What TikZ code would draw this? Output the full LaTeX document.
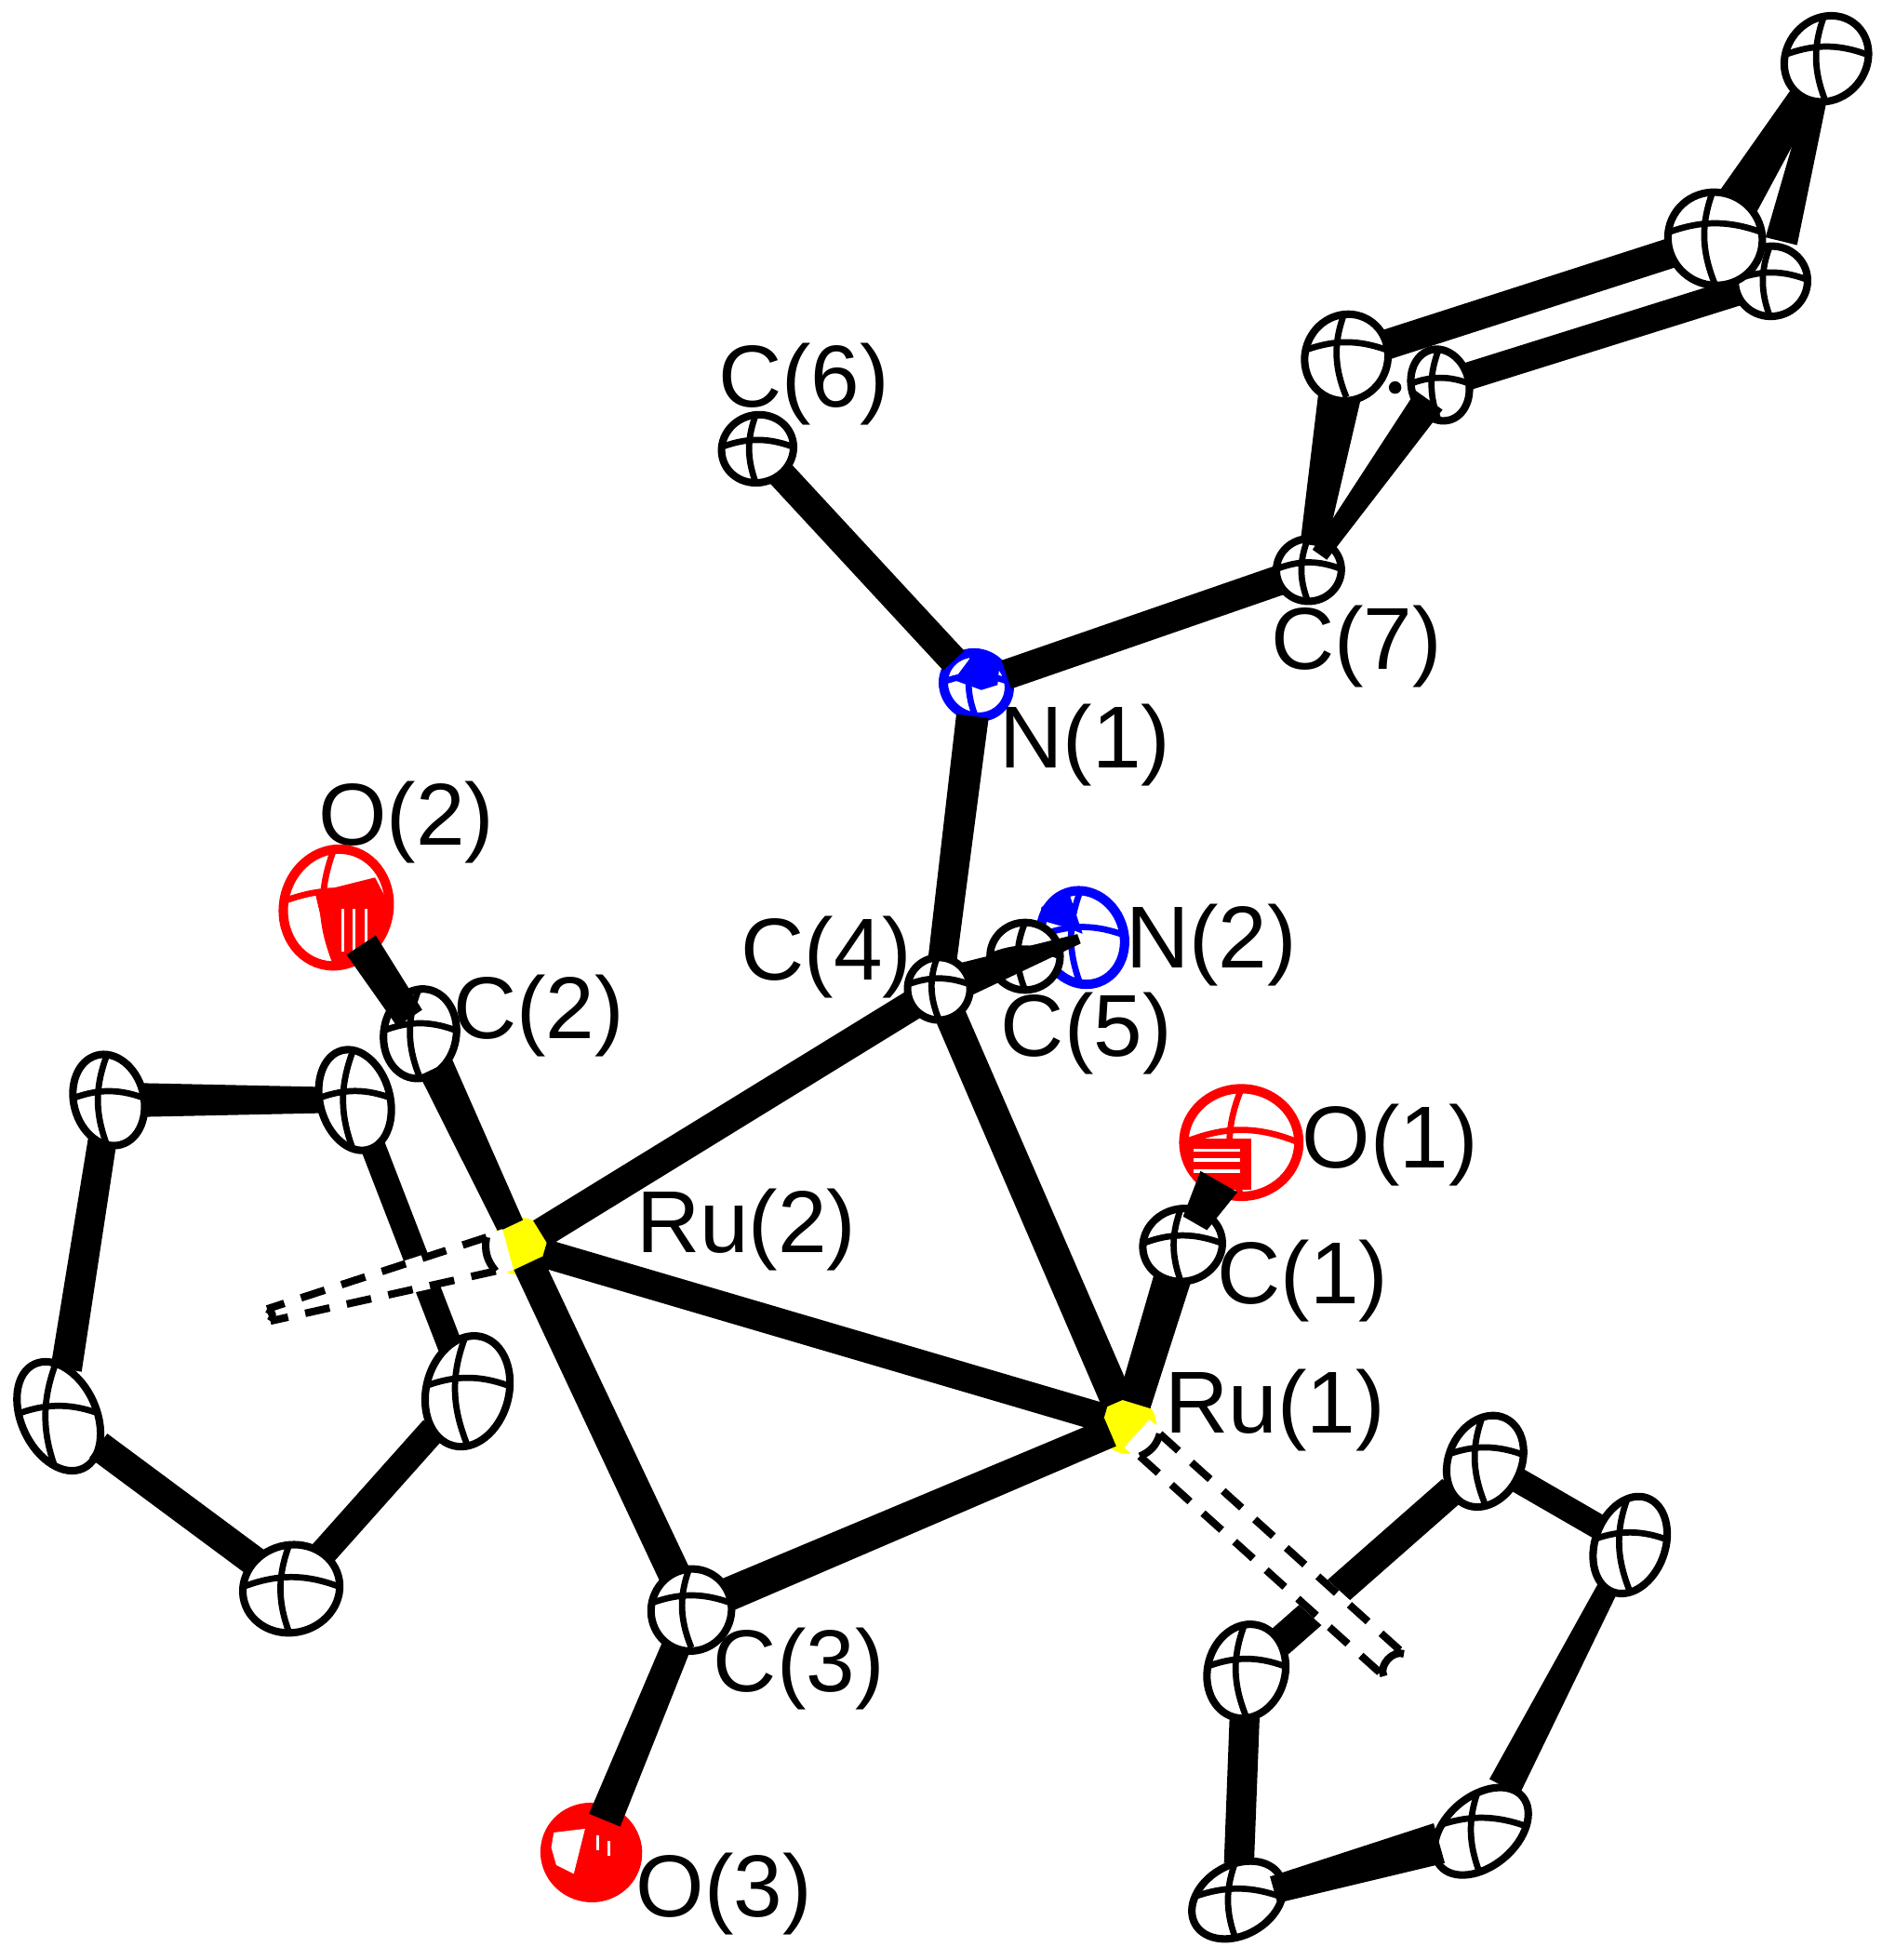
\documentclass[tikz,border=0pt]{standalone}
\usepackage{fontspec}
\setmainfont{Liberation Sans}
\usepackage{tikz}
\usetikzlibrary{shapes}
\usetikzlibrary{arrows,positioning,calc}
\pgfdeclarelayer{front}
\pgfsetlayers{main,front}
\definecolor{rured}{RGB}{255,0,0}
\definecolor{nblue}{RGB}{0,0,255}
\definecolor{ruyel}{RGB}{255,255,0}
\tikzstyle{atom}=[ellipse,draw,fill=white,line width=.06cm,inner sep=0pt,path picture={\draw[line width=.05cm] (path picture bounding box.west) to[bend left=22] (path picture bounding box.east) (path picture bounding box.north) to[bend right=22] (path picture bounding box.south);}]
\tikzstyle{hetero}=[atom,line width=.075cm]
\tikzstyle{metal}=[circle,fill=ruyel,inner sep=0pt,minimum size=.46cm]
\tikzstyle{bond}=[line width=.24cm,shorten <=-.04cm,shorten >=-.04cm]
\tikzstyle{lb}=[inner sep=0pt,yshift=-.04cm,font=\fontsize{20}{21}\selectfont]
\tikzstyle{rail}=[line width=.06cm,dash pattern=on .2cm off .14cm]
\tikzset{sz/.style 2 args={minimum width=#1cm,minimum height=#2cm}}
\newcommand{\wbond}[6]{\fill ($(#1)!#3!(#2)!#4!90:(#2)$) -- ($(#1)!#3!(#2)!#4!-90:(#2)$) -- ($(#2)!#5!(#1)!#6!90:(#1)$) -- ($(#2)!#5!(#1)!#6!-90:(#1)$) -- cycle;}
\newcommand{\rails}[4]{\fill[white] ($(#1)!.1cm!(#2)!#3!90:(#2)$) -- ($(#1)!.1cm!(#2)!#3!-90:(#2)$) -- ($(#2)!#4!90:(#1)$) -- ($(#2)!#4!-90:(#1)$) -- cycle;
 \draw[rail] ($(#1)!.24cm!(#2)!#3-.03cm!90:(#2)$) -- ($(#2)!#4-.03cm!-90:(#1)$);
 \draw[rail] ($(#1)!.24cm!(#2)!#3-.03cm!-90:(#2)$) -- ($(#2)!#4-.03cm!90:(#1)$);
 \draw[line width=.06cm] ($(#2)!#4-.03cm!-90:(#1)$) to[bend right=70] ($(#2)!#4-.03cm!90:(#1)$);
 \draw[line width=.06cm] ($(#1)!.24cm!(#2)!#3-.03cm!90:(#2)$) to[bend left=25] ($(#1)!.24cm!(#2)!#3-.03cm!-90:(#2)$);}
\begin{document}
\begin{tikzpicture}
[x=.01cm,y=-.01cm]
 \useasboundingbox (0,0) rectangle (1505,1568);
 \node[metal] (ru1) at (902,1140) {};
 \node[metal] (ru2) at (416,997) {};
 \node[atom,sz={.64}{.58},rotate=15] (c1) at (946,996) {};
 \node[atom,sz={.58}{.72},rotate=-10] (c2) at (336,827) {};
 \node[atom,sz={.58}{.54},rotate=20] (c6) at (606,359) {};
 \node[atom,sz={.52}{.5},rotate=10] (c7) at (1047,456) {};
 \node[nblue,hetero,sz={.54}{.5},rotate=-35] (n1) at (781,548) {};
 \node[nblue,hetero,sz={.66}{.76},rotate=20] (n2) at (866,750) {};
 \node[atom,sz={.56}{.54}] (c5) at (820,765) {};
 \node[rured,hetero,sz={.92}{.86}] (o1) at (993,914) {};
 \node[rured,hetero,sz={.84}{.94},rotate=-15] (o2) at (269,726) {};
 \node[rured,hetero,sz={.74}{.72},rotate=-15] (o3) at (473,1482) {};
 \node[atom,sz={.56}{.74},rotate=15] (ca1) at (87,880) {};
 \node[atom,sz={.56}{.82},rotate=15] (ca2) at (284,880) {};
 \node[atom,sz={.66}{.9},rotate=-15] (ca3) at (374,1113) {};
 \node[atom,sz={.6}{.92},rotate=25] (ca4) at (47,1133) {};
 \node[atom,sz={.78}{.7},rotate=15] (ca5) at (233,1271) {};
 \node[atom,sz={.58}{.76},rotate=-25] (cb1) at (1188,1169) {};
 \node[atom,sz={.56}{.8},rotate=-20] (cb2) at (1304,1236) {};
 \node[atom,sz={.86}{.56},rotate=40] (cb3) at (1185,1465) {};
 \node[atom,sz={.78}{.56},rotate=30] (cb4) at (990,1520) {};
 \node[atom,sz={.62}{.76},rotate=-15] (cb5) at (997,1337) {};
 \node[atom,sz={.46}{.58},rotate=15] (p2) at (1152,308) {};
 \node[atom,sz={.58}{.56},rotate=15] (p4) at (1417,225) {};
 \begin{pgfonlayer}{front}
 \node[atom,sz={.64}{.66},rotate=-25] (c3) at (553,1288) {};
 \node[atom,sz={.5}{.5},rotate=-30] (c4) at (751,791) {};
 \node[atom,sz={.66}{.7},rotate=-25] (p1) at (1077,286) {};
 \node[atom,sz={.76}{.74},rotate=-30] (p3) at (1372,191) {};
 \node[atom,sz={.64}{.72},rotate=-40] (p5) at (1461,47) {};
 \end{pgfonlayer}
 \coordinate (cpa) at (215,1052);
 \coordinate (cpb) at (1115,1332);
 \fill[nblue] (763,544) -- (778,524) -- (800,527) -- (798,548) -- (785,552) -- cycle;
 \fill[nblue] (833,726) -- (846,715) -- (856,717) -- (866,747) -- (853,742) -- (832,736) -- cycle;
 \begin{scope}
  \clip (993,914) ellipse [x radius=47,y radius=44];
  \fill[rured] (945,911) rectangle (1001,952);
  \foreach \y in {920,928,937} \draw[white,line width=.025cm] (955,\y) -- (992,\y);
 \end{scope}
 \fill[rured] (252,714) -- (300,702) -- (311,723) -- (304,750) -- (277,772) -- (264,765) -- cycle;
 \foreach \x in {274,283,293} \draw[white,line width=.02cm] (\x,727) -- (\x,761);
 \begin{scope}
  \clip (473,1482) ellipse [x radius=38,y radius=37];
  \fill[rured] (430,1440) rectangle (515,1525);
 \end{scope}
 \fill[white] (443,1466) -- (468,1463) -- (459,1499) -- (445,1492) -- (441,1478) -- cycle;
 \foreach \x/\y in {478/1468,487/1473} \draw[white,line width=.02cm] (\x,\y) -- (\x,\y+12);
 \path[bond]
   (c6) edge[line width=.23cm] (n1)
   (n1) edge (c7)
   (ru2) edge (c4)
   (ru2) edge[line width=.23cm] (ru1)
   (ca2) edge[line width=.2cm] (ca3)
   (ca3) edge[line width=.22cm] (ca5)
   (ca4) edge (ca5)
   (cb1) edge[line width=.2cm] (cb2)
   (cb4) edge (cb5)
   (cb1) edge (cb5)
   (p1) edge (p3)
   (p2) edge[line width=.22cm] (p4);
 \wbond{n1}{c4}{.25cm}{.13cm}{.25cm}{.115cm}
 \wbond{c4}{ru1}{.2cm}{.125cm}{.2cm}{.13cm}
 \wbond{ru2}{c3}{.15cm}{.125cm}{.2cm}{.13cm}
 \wbond{ru1}{c3}{.15cm}{.12cm}{.2cm}{.135cm}
 \wbond{c3}{o3}{.2cm}{.115cm}{.28cm}{.135cm}
 \wbond{c1}{ru1}{.27cm}{.15cm}{.18cm}{.135cm}
 \wbond{c1}{o1}{.2cm}{.11cm}{.36cm}{.17cm}
 \wbond{c2}{ru2}{.3cm}{.145cm}{.18cm}{.11cm}
 \wbond{c2}{o2}{.15cm}{.12cm}{.36cm}{.14cm}
 \wbond{ca1}{ca2}{.27cm}{.135cm}{.28cm}{.105cm}
 \wbond{ca1}{ca4}{.33cm}{.115cm}{.38cm}{.125cm}
 \wbond{cb2}{cb3}{.38cm}{.085cm}{.4cm}{.135cm}
 \wbond{cb3}{cb4}{.35cm}{.165cm}{.3cm}{.11cm}
 \wbond{c4}{n2}{.2cm}{.14cm}{.03cm}{.04cm}
 \wbond{p1}{c7}{.33cm}{.17cm}{.2cm}{.105cm}
 \wbond{p2}{c7}{.15cm}{.13cm}{.15cm}{.07cm}
 \wbond{p3}{p5}{.36cm}{.17cm}{.25cm}{.105cm}
 \wbond{p4}{p5}{.33cm}{.13cm}{.25cm}{.08cm}
 \fill (1116,310) circle [radius=5];
 \rails{ru2}{cpa}{.17cm}{.08cm}
 \rails{ru1}{cpb}{.15cm}{.15cm}
 \node[lb] (lc6) at ($(c6)+(37,-56)$) {C(6)};
 \node[lb] (lc7) at ($(c7)+(38,57)$) {C(7)};
 \node[lb] (ln1) at ($(n1)+(87,44)$) {N(1)};
 \node[lb] (ln2) at ($(n2)+(103,2)$) {N(2)};
 \node[lb] (lc4) at ($(c4)+(-90,-29)$) {C(4)};
 \node[lb] (lc5) at ($(c5)+(49,58)$) {C(5)};
 \node[lb] (lo2) at ($(o2)+(56,-72)$) {O(2)};
 \node[lb] (lc2) at ($(c2)+(95,-18)$) {C(2)};
 \node[lb] (lo1) at ($(o1)+(119,-2)$) {O(1)};
 \node[lb] (lc1) at ($(c1)+(96,25)$) {C(1)};
 \node[lb] (lru2) at ($(ru2)+(181,-17)$) {Ru(2)};
 \node[lb] (lru1) at ($(ru1)+(118,-16)$) {Ru(1)};
 \node[lb] (lc3) at ($(c3)+(86,43)$) {C(3)};
 \node[lb] (lo3) at ($(o3)+(106,29)$) {O(3)};
\end{tikzpicture}
\end{document}
